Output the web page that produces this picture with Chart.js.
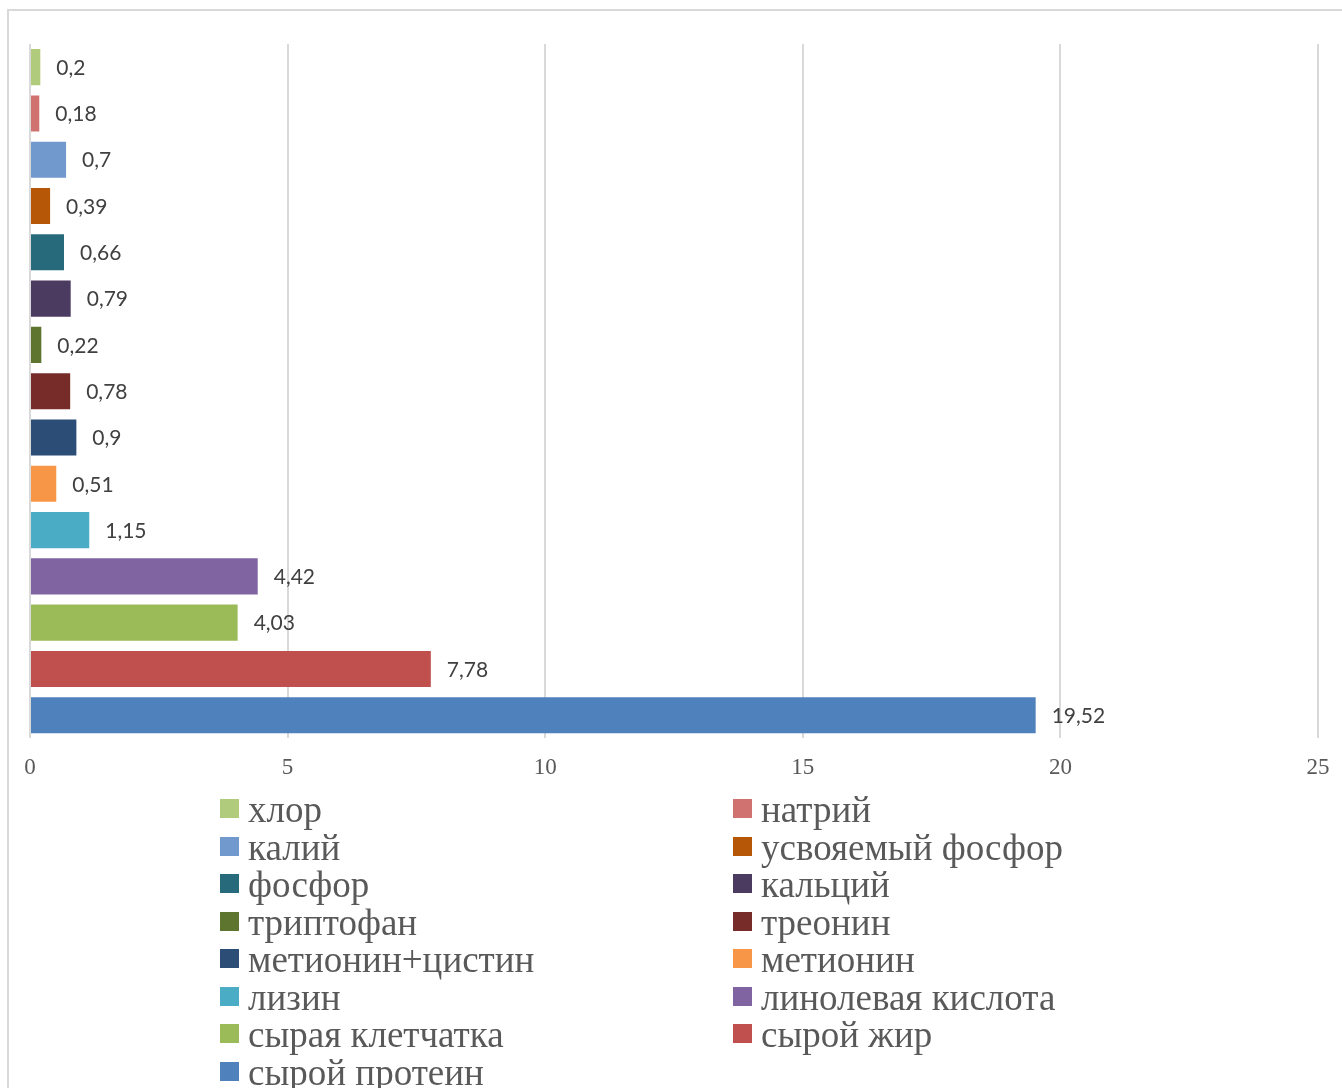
<!DOCTYPE html>
<html lang="ru">
<head>
<meta charset="utf-8">
<script src="https://cdn.jsdelivr.net/npm/chart.js@4/dist/chart.umd.min.js"></script>
<style>
  html, body { margin: 0; padding: 0; background: #fff; }
  body { width: 1342px; height: 1088px; position: relative; overflow: hidden; }
  #frame {
    position: absolute; left: 7px; top: 9px;
    width: 1400px; height: 1200px;
    border: 2px solid #d9d9d9; box-sizing: border-box;
  }
  #wrap { position: absolute; left: 0; top: 0; width: 1342px; height: 806px; }
  #legend {
    position: absolute; left: 220px; top: 791px;
    display: grid; grid-template-columns: 513px 513px;
    font-family: "Liberation Serif", "Times New Roman", serif;
    font-size: 37px; line-height: 37.5px; color: #595959;
  }
  .item { position: relative; padding-left: 28px; white-space: nowrap; }
  .item i {
    position: absolute; left: 0; top: 8px;
    width: 19px; height: 19px; display: block;
  }
</style>
</head>
<body>
<div id="frame"></div>
<div id="wrap"><canvas id="graphBar"></canvas></div>
<div id="legend"></div>
<script>
// показатели корма, сверху вниз
const nutrients = [
  'хлор', 'натрий', 'калий', 'усвояемый фосфор', 'фосфор',
  'кальций', 'триптофан', 'треонин', 'метионин+цистин', 'метионин',
  'лизин', 'линолевая кислота', 'сырая клетчатка', 'сырой жир', 'сырой протеин'
];
const amounts = [0.2, 0.18, 0.7, 0.39, 0.66, 0.79, 0.22, 0.78, 0.9, 0.51, 1.15, 4.42, 4.03, 7.78, 19.52];
const barColors = [
  '#b0cb7c', '#d0726f', '#7199cd', '#b65708', '#276a7b',
  '#4c3b61', '#5e7530', '#772c2a', '#2c4d75', '#f79646',
  '#4bacc6', '#8064a2', '#9bbb59', '#c0504d', '#4f81bd'
];
const xTicks = [0, 5, 10, 15, 20, 25];

// подписи значений справа от столбцов
const valueLabels = {
  id: 'valueLabels',
  afterDatasetsDraw(chart) {
    const ctx = chart.ctx;
    const meta = chart.getDatasetMeta(0);
    ctx.save();
    ctx.font = '21px Lato, "Open Sans", sans-serif';
    ctx.fillStyle = '#404040';
    ctx.textAlign = 'left';
    ctx.textBaseline = 'middle';
    meta.data.forEach((bar, i) => {
      const txt = String(amounts[i]).replace('.', ',');
      ctx.fillText(txt, bar.x + 16, bar.y + 1);
    });
    ctx.restore();
  }
};

const ctx = document.getElementById('graphBar').getContext('2d');
new Chart(ctx, {
  type: 'bar',
  data: {
    labels: nutrients,
    datasets: [{
      data: amounts,
      backgroundColor: barColors,
      barPercentage: 0.78,
      categoryPercentage: 1
    }]
  },
  options: {
    indexAxis: 'y',
    responsive: true,
    maintainAspectRatio: false,
    animation: false,
    layout: { padding: { left: 30, right: 24, top: 44, bottom: 12 } },
    plugins: {
      legend: { display: false },
      tooltip: { enabled: false }
    },
    scales: {
      x: {
        min: 0,
        max: 25,
        afterBuildTicks: axis => { axis.ticks = xTicks.map(v => ({ value: v })); },
        // засечки невидимые, только отступ до подписей
        grid: { color: '#d9d9d9', lineWidth: 2, tickLength: 4, tickColor: 'rgba(0,0,0,0)' },
        border: { display: false },
        ticks: {
          padding: 12,
          color: '#595959',
          font: { family: '"Liberation Serif", "Times New Roman", serif', size: 23 }
        }
      },
      y: { display: false }
    }
  },
  plugins: [valueLabels]
});

// легенда в два столбца
const legend = document.getElementById('legend');
nutrients.forEach((name, i) => {
  const item = document.createElement('div');
  item.className = 'item';
  const box = document.createElement('i');
  box.style.background = barColors[i];
  item.appendChild(box);
  item.appendChild(document.createTextNode(name));
  legend.appendChild(item);
});
</script>
</body>
</html>
